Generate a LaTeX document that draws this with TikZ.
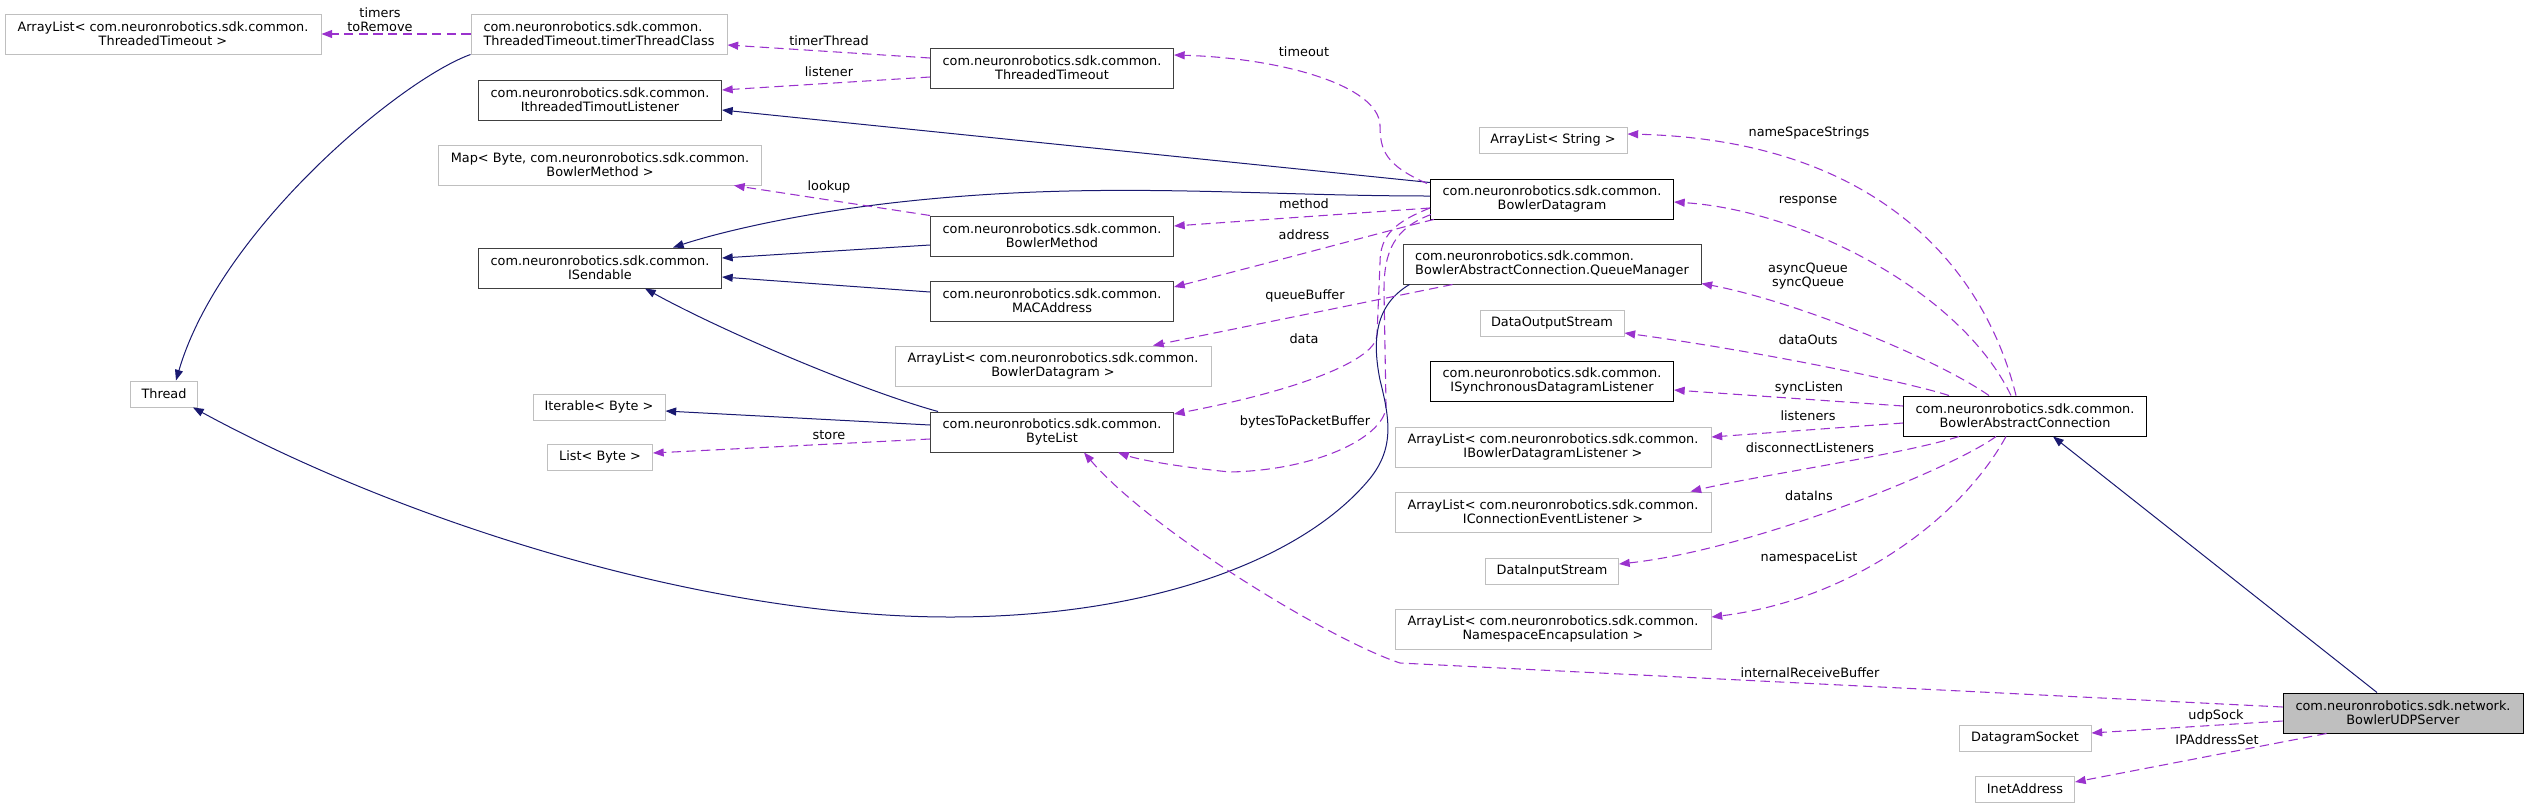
\documentclass[tikz,border=0pt]{standalone}
\usepackage{fontspec}
\setmainfont{DejaVu Sans}
\usetikzlibrary{arrows.meta}
\definecolor{navyb}{HTML}{191970}
\definecolor{orch}{HTML}{9A32CD}
\definecolor{gline}{HTML}{BFBFBF}
\definecolor{gdark}{HTML}{404040}
\begin{document}
\begin{tikzpicture}[x=0.75pt,y=-0.75pt,
  every node/.style={font=\fontsize{9.65pt}{10.5pt}\selectfont},
  sz/.style 2 args={minimum width=#1*0.75pt,minimum height=#2*0.75pt},
  ext/.style={draw=gline,line width=0.75pt,fill=white,inner sep=0pt,align=center},
  cls/.style={draw=gdark,line width=0.75pt,fill=white,inner sep=0pt,align=center},
  clsb/.style={draw=black,line width=0.75pt,fill=white,inner sep=0pt,align=center},
  focus/.style={draw=black,line width=0.75pt,fill=gline,inner sep=0pt,align=center},
  inh/.style={draw=navyb,line width=0.75pt,-{Triangle[length=8pt,width=6pt]}},
  use/.style={draw=orch,line width=0.8pt,dash pattern=on 7pt off 4pt,-{Triangle[length=8pt,width=6pt]}},
  lbl/.style={inner sep=0pt,align=center}
]
\useasboundingbox (0,0) rectangle (2528,808);

% ---------- nodes ----------
\node[ext,sz={316}{40}] (arrTT) at (163,34) {ArrayList< com.neuronrobotics.sdk.common.\\ThreadedTimeout >};
\node[ext,sz={256}{40},align=left] (ttc) at (599,34) {com.neuronrobotics.sdk.common.\\ThreadedTimeout.timerThreadClass};
\node[cls,sz={243}{40}] (itl) at (600,100) {com.neuronrobotics.sdk.common.\\IthreadedTimoutListener};
\node[ext,sz={323}{40}] (map) at (600,165) {Map< Byte, com.neuronrobotics.sdk.common.\\BowlerMethod >};
\node[cls,sz={243}{40}] (isend) at (600,268) {com.neuronrobotics.sdk.common.\\ISendable};
\node[ext,sz={67}{26}] (thread) at (164,394) {Thread};
\node[ext,sz={132}{26}] (iter) at (599,407) {Iterable< Byte >};
\node[ext,sz={105}{26}] (listb) at (600,457) {List< Byte >};

\node[cls,sz={243}{40}] (tt) at (1052,68) {com.neuronrobotics.sdk.common.\\ThreadedTimeout};
\node[cls,sz={243}{40}] (bm) at (1052,236) {com.neuronrobotics.sdk.common.\\BowlerMethod};
\node[cls,sz={243}{40}] (mac) at (1052,301) {com.neuronrobotics.sdk.common.\\MACAddress};
\node[ext,sz={316}{40}] (arrBD) at (1053,366) {ArrayList< com.neuronrobotics.sdk.common.\\BowlerDatagram >};
\node[cls,sz={243}{40}] (bl) at (1052,432) {com.neuronrobotics.sdk.common.\\ByteList};

\node[ext,sz={148}{26}] (arrStr) at (1553,140) {ArrayList< String >};
\node[clsb,sz={243}{40}] (bd) at (1552,199) {com.neuronrobotics.sdk.common.\\BowlerDatagram};
\node[cls,sz={298}{40},align=left] (qm) at (1552,264) {com.neuronrobotics.sdk.common.\\BowlerAbstractConnection.QueueManager};
\node[ext,sz={144}{26}] (dos) at (1552,323) {DataOutputStream};
\node[clsb,sz={243}{40}] (isdl) at (1552,381) {com.neuronrobotics.sdk.common.\\ISynchronousDatagramListener};
\node[ext,sz={316}{40}] (arrBDL) at (1553,447) {ArrayList< com.neuronrobotics.sdk.common.\\IBowlerDatagramListener >};
\node[ext,sz={316}{40}] (arrCEL) at (1553,512) {ArrayList< com.neuronrobotics.sdk.common.\\IConnectionEventListener >};
\node[ext,sz={133}{26}] (dis) at (1552,571) {DataInputStream};
\node[ext,sz={316}{40}] (arrNE) at (1553,629) {ArrayList< com.neuronrobotics.sdk.common.\\NamespaceEncapsulation >};

\node[clsb,sz={243}{40}] (bac) at (2025,416) {com.neuronrobotics.sdk.common.\\BowlerAbstractConnection};
\node[ext,sz={132}{26}] (dsock) at (2025,738) {DatagramSocket};
\node[ext,sz={99}{26}] (inet) at (2025,789) {InetAddress};
\node[focus,sz={240}{40}] (udp) at (2403,713) {com.neuronrobotics.sdk.network.\\BowlerUDPServer};

% ---------- edges: left part ----------
\draw[inh] (ttc.south west) .. controls (400,80) and (220,230) .. ([shift={(12,0)}]thread.north);
\draw[use] (ttc.west) -- (arrTT.east);
\draw[use] ([shift={(0,-10)}]tt.west) -- ([shift={(0,11)}]ttc.east);
\draw[use] ([shift={(0,9)}]tt.west) -- ([shift={(0,-10)}]itl.east);
\draw[inh] ([shift={(0,4)}]bd.north west) -- ([shift={(0,10)}]itl.east);
\draw[use] ([shift={(-3,5)}]bd.north west) .. controls (1385,165) and (1380,150) .. (1380,125)
   .. controls (1378,85) and (1280,58) .. ([shift={(0,-13)}]tt.east);
\draw[inh] ([shift={(0,-3)}]bd.west) .. controls (1250,196) and (1100,180) .. (900,202)
   .. controls (800,213) and (720,232) .. ([shift={(73,0)}]isend.north);
\draw[use] ([shift={(0,9)}]bd.west) -- ([shift={(0,-10)}]bm.east);
\draw[use] ([shift={(4,0)}]bd.south west) .. controls (1405,226) and (1300,255) .. ([shift={(0,-14)}]mac.east);
\draw[use] ([shift={(0,9)}]bd.west) .. controls (1395,222) and (1380,235) .. (1380,263)
   -- (1377,335) .. controls (1376,360) and (1300,390) .. ([shift={(0,-18)}]bl.east);
\draw[use] ([shift={(1,-5)}]bd.south west) .. controls (1395,228) and (1384,250) .. (1384,290)
   -- (1386,405) .. controls (1387,435) and (1320,470) .. (1230,472)
   .. controls (1180,467) and (1140,460) .. ([shift={(66,0)}]bl.south);
\draw[inh] ([shift={(7,0)}]qm.south west) .. controls (1375,305) and (1372,340) .. (1380,380)
   .. controls (1390,420) and (1395,450) .. (1367,482)
   .. controls (1300,560) and (1150,617) .. (950,617)
   .. controls (700,617) and (400,520) .. ([shift={(-5,0)}]thread.south east);
\draw[use] ([shift={(50,0)}]qm.south west) -- ([shift={(100,0)}]arrBD.north);
\draw[inh] ([shift={(0,9)}]bm.west) -- ([shift={(0,-10)}]isend.east);
\draw[inh] ([shift={(0,-9)}]mac.west) -- ([shift={(0,9)}]isend.east);
\draw[use] (bm.north west) -- ([shift={(-28,0)}]map.south east);
\draw[inh] ([shift={(8,0)}]bl.north west) .. controls (860,390) and (720,330) .. ([shift={(45,0)}]isend.south);
\draw[inh] ([shift={(0,-7)}]bl.west) -- ([shift={(0,4)}]iter.east);
\draw[use] ([shift={(0,7)}]bl.west) -- ([shift={(0,-4)}]listb.east);

% ---------- edges: BowlerAbstractConnection fan ----------
\draw[use] ([shift={(113,0)}]bac.north west) .. controls (1985,270) and (1880,140) .. ([shift={(0,-6)}]arrStr.east);
\draw[use] ([shift={(108,0)}]bac.north west) .. controls (1960,290) and (1800,210) .. ([shift={(0,3)}]bd.east);
\draw[use] ([shift={(86,0)}]bac.north west) .. controls (1930,355) and (1790,300) .. ([shift={(0,-1)}]qm.south east);
\draw[use] ([shift={(46,0)}]bac.north west) .. controls (1900,380) and (1750,350) .. ([shift={(0,10)}]dos.east);
\draw[use] ([shift={(0,-10)}]bac.west) -- ([shift={(0,9)}]isdl.east);
\draw[use] ([shift={(0,7)}]bac.west) -- ([shift={(0,-10)}]arrBDL.east);
\draw[use] ([shift={(56,0)}]bac.south west) .. controls (1900,455) and (1760,475) .. ([shift={(-21,0)}]arrCEL.north east);
\draw[use] ([shift={(93,0)}]bac.south west) .. controls (1950,470) and (1750,550) .. ([shift={(0,-7)}]dis.east);
\draw[use] ([shift={(103,0)}]bac.south west) .. controls (1960,520) and (1850,600) .. ([shift={(0,-12)}]arrNE.east);

% ---------- edges: BowlerUDPServer ----------
\draw[inh] ([shift={(-26,0)}]udp.north) -- ([shift={(28,0)}]bac.south);
\draw[use] ([shift={(0,-6)}]udp.west) .. controls (1900,688) and (1500,668) .. (1400,663)
   .. controls (1330,640) and (1150,530) .. ([shift={(32,0)}]bl.south);
\draw[use] ([shift={(0,8)}]udp.west) -- ([shift={(0,-5)}]dsock.east);
\draw[use] ([shift={(44,0)}]udp.south west) -- ([shift={(0,-7)}]inet.east);

% ---------- edge labels ----------
\node[lbl] (lTimers) at (380,20) {timers\\toRemove};
\node[lbl] (lTimerThread) at (829,41) {timerThread};
\node[lbl] (lListener) at (829,72) {listener};
\node[lbl] (lLookup) at (829,187) {lookup};
\node[lbl] (lStore) at (829,435) {store};
\node[lbl] (lTimeout) at (1304,52) {timeout};
\node[lbl] (lMethod) at (1304,204) {method};
\node[lbl] (lAddress) at (1304,235) {address};
\node[lbl] (lQueueBuffer) at (1305,296) {queueBuffer};
\node[lbl] (lData) at (1304,339) {data};
\node[lbl] (lBytes) at (1305,422) {bytesToPacketBuffer};
\node[lbl] (lNSS) at (1809,133) {nameSpaceStrings};
\node[lbl] (lResponse) at (1808,201) {response};
\node[lbl] (lQueues) at (1808,276) {asyncQueue\\syncQueue};
\node[lbl] (lDataOuts) at (1808,340) {dataOuts};
\node[lbl] (lSyncListen) at (1809,388) {syncListen};
\node[lbl] (lListeners) at (1808,416) {listeners};
\node[lbl] (lDisc) at (1810,448) {disconnectListeners};
\node[lbl] (lDataIns) at (1809,496) {dataIns};
\node[lbl] (lNSList) at (1809,558) {namespaceList};
\node[lbl] (lIRB) at (1810,673) {internalReceiveBuffer};
\node[lbl] (lUdpSock) at (2216,716) {udpSock};
\node[lbl] (lIP) at (2217,740) {IPAddressSet};
\end{tikzpicture}
\end{document}
